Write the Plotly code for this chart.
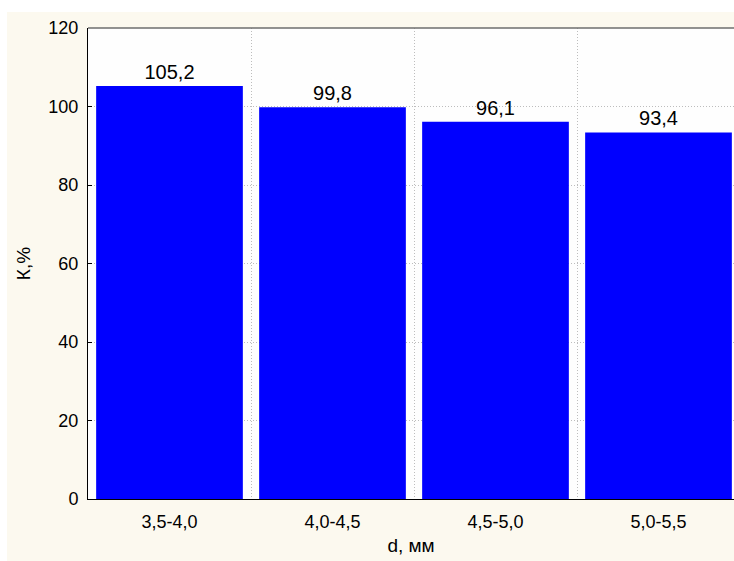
import plotly.graph_objects as go

categories = ["3,5-4,0", "4,0-4,5", "4,5-5,0", "5,0-5,5"]
values = [105.2, 99.8, 96.1, 93.4]
y_ticks = [0, 20, 40, 60, 80, 100, 120]

W, H = 734, 561
ML, MT, MB, MR = 88, 28, 62, 0
pw = W - ML - MR
ph = H - MT - MB

cream = "#fcf9ef"
font = "Liberation Sans, Arial, sans-serif"
grid_dash = "1px,2px"

fig = go.Figure(go.Bar(
    x=categories, y=values,
    marker=dict(color="#0000ff", line=dict(width=0)),
    width=0.9,
    texttemplate="%{y:.1f}", textposition="outside",
    textfont=dict(size=20, color="#000", family=font),
    cliponaxis=False,
))

cat_w = 163.0
x_hi = -0.5 + pw / cat_w

fig.update_layout(
    width=W, height=H,
    margin=dict(l=ML, r=MR, t=MT, b=MB, pad=0, autoexpand=False),
    paper_bgcolor=cream, plot_bgcolor="#fefefe",
    separators=", ",
    showlegend=False,
    font=dict(family=font, color="#000"),
    xaxis=dict(
        type="category", range=[-0.5, x_hi], tickson="boundaries",
        showline=True, linecolor="#000", linewidth=1,
        showgrid=True, gridcolor="#bdbdbd", griddash=grid_dash, gridwidth=1,
        ticks="", tickfont=dict(size=18, color="#000"),
        ticklabelstandoff=6,
        title=dict(text="d, мм", font=dict(size=19, color="#000"), standoff=8),
    ),
    yaxis=dict(
        range=[0, 120], tickvals=y_ticks,
        showline=True, linecolor="#000", linewidth=1,
        showgrid=True, gridcolor="#bdbdbd", griddash=grid_dash, gridwidth=1,
        ticks="inside", ticklen=4, tickcolor="#000",
        tickfont=dict(size=18, color="#000"),
        ticklabelstandoff=5,
        zeroline=False,
        title=dict(text="К,%", font=dict(size=19, color="#000"), standoff=12),
    ),
    shapes=[
        dict(type="rect", xref="paper", yref="paper",
             x0=-ML / pw, x1=1.0, y0=1 + 16 / ph, y1=1 + MT / ph,
             fillcolor="white", line=dict(width=0), layer="above"),
        dict(type="rect", xref="paper", yref="paper",
             x0=-ML / pw, x1=-(ML - 7) / pw, y0=-MB / ph, y1=1 + MT / ph,
             fillcolor="white", line=dict(width=0), layer="above"),
        dict(type="line", xref="paper", yref="paper",
             x0=0, x1=1, y0=1, y1=1, line=dict(color="#6e6e6e", width=1.5)),
    ],
)

fig.write_html("out.html", config={"displayModeBar": False})
with open("out.html", "r", encoding="utf-8") as f:
    html = f.read()
html = html.replace("<head>", "<head><style>html,body{margin:0;padding:0;overflow:hidden;}</style>", 1)
with open("out.html", "w", encoding="utf-8") as f:
    f.write(html)
